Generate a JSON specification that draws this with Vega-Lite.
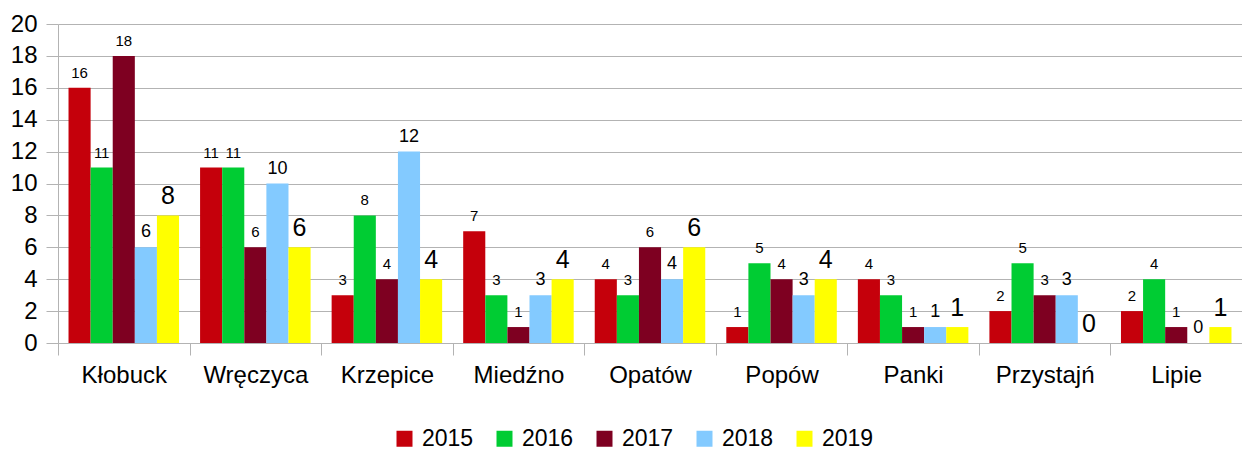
{
  "$schema": "https://vega.github.io/schema/vega-lite/v6.json",
  "width": 1184,
  "height": 319,
  "autosize": {"type": "none"},
  "padding": {"left": 58, "top": 24, "right": 0, "bottom": 107},
  "config": {
    "font": "Liberation Sans",
    "view": {"stroke": null},
    "axis": {"labelColor": "#000000", "labelFont": "Liberation Sans"}
  },
  "data": {
    "values": [
      {"gmina": "Kłobuck", "year": "2015", "value": 16},
      {"gmina": "Kłobuck", "year": "2016", "value": 11},
      {"gmina": "Kłobuck", "year": "2017", "value": 18},
      {"gmina": "Kłobuck", "year": "2018", "value": 6},
      {"gmina": "Kłobuck", "year": "2019", "value": 8},
      {"gmina": "Wręczyca", "year": "2015", "value": 11},
      {"gmina": "Wręczyca", "year": "2016", "value": 11},
      {"gmina": "Wręczyca", "year": "2017", "value": 6},
      {"gmina": "Wręczyca", "year": "2018", "value": 10},
      {"gmina": "Wręczyca", "year": "2019", "value": 6},
      {"gmina": "Krzepice", "year": "2015", "value": 3},
      {"gmina": "Krzepice", "year": "2016", "value": 8},
      {"gmina": "Krzepice", "year": "2017", "value": 4},
      {"gmina": "Krzepice", "year": "2018", "value": 12},
      {"gmina": "Krzepice", "year": "2019", "value": 4},
      {"gmina": "Miedźno", "year": "2015", "value": 7},
      {"gmina": "Miedźno", "year": "2016", "value": 3},
      {"gmina": "Miedźno", "year": "2017", "value": 1},
      {"gmina": "Miedźno", "year": "2018", "value": 3},
      {"gmina": "Miedźno", "year": "2019", "value": 4},
      {"gmina": "Opatów", "year": "2015", "value": 4},
      {"gmina": "Opatów", "year": "2016", "value": 3},
      {"gmina": "Opatów", "year": "2017", "value": 6},
      {"gmina": "Opatów", "year": "2018", "value": 4},
      {"gmina": "Opatów", "year": "2019", "value": 6},
      {"gmina": "Popów", "year": "2015", "value": 1},
      {"gmina": "Popów", "year": "2016", "value": 5},
      {"gmina": "Popów", "year": "2017", "value": 4},
      {"gmina": "Popów", "year": "2018", "value": 3},
      {"gmina": "Popów", "year": "2019", "value": 4},
      {"gmina": "Panki", "year": "2015", "value": 4},
      {"gmina": "Panki", "year": "2016", "value": 3},
      {"gmina": "Panki", "year": "2017", "value": 1},
      {"gmina": "Panki", "year": "2018", "value": 1},
      {"gmina": "Panki", "year": "2019", "value": 1},
      {"gmina": "Przystajń", "year": "2015", "value": 2},
      {"gmina": "Przystajń", "year": "2016", "value": 5},
      {"gmina": "Przystajń", "year": "2017", "value": 3},
      {"gmina": "Przystajń", "year": "2018", "value": 3},
      {"gmina": "Przystajń", "year": "2019", "value": 0},
      {"gmina": "Lipie", "year": "2015", "value": 2},
      {"gmina": "Lipie", "year": "2016", "value": 4},
      {"gmina": "Lipie", "year": "2017", "value": 1},
      {"gmina": "Lipie", "year": "2018", "value": 0},
      {"gmina": "Lipie", "year": "2019", "value": 1}
    ]
  },
  "encoding": {
    "x": {
      "field": "gmina", "type": "nominal", "sort": null,
      "scale": {"paddingInner": 0, "paddingOuter": 0},
      "axis": {
        "title": null, "labelAngle": 0, "labelFontSize": 24, "labelPadding": 8,
        "domainColor": "#b3b3b3", "tickColor": "#b3b3b3", "tickSize": 12,
        "tickBand": "extent", "grid": false
      }
    },
    "xOffset": {
      "field": "year", "type": "nominal",
      "scale": {"domain": ["2015", "2016", "2017", "2018", "2019"], "paddingInner": 0, "paddingOuter": 0.476}
    },
    "y": {
      "field": "value", "type": "quantitative",
      "scale": {"domain": [0, 20], "nice": false},
      "axis": {
        "title": null, "values": [0, 2, 4, 6, 8, 10, 12, 14, 16, 18, 20],
        "labelFontSize": 24, "labelPadding": 9,
        "grid": true, "gridColor": "#b3b3b3",
        "domainColor": "#b3b3b3", "tickColor": "#b3b3b3", "tickSize": 12
      }
    }
  },
  "layer": [
    {
      "mark": {"type": "bar"},
      "encoding": {
        "color": {
          "field": "year", "type": "nominal",
          "scale": {"domain": ["2015", "2016", "2017", "2018", "2019"], "range": ["#C5000B", "#00CC33", "#7E0021", "#83CAFF", "#FFFF00"]},
          "legend": {
            "title": null, "orient": "none", "legendX": 335, "legendY": 403, "padding": 0,
            "direction": "horizontal", "symbolType": "square", "symbolSize": 256,
            "symbolStrokeWidth": 0, "labelFontSize": 23, "labelColor": "#000000",
            "labelOffset": 6, "columnPadding": 19, "labelLimit": 300
          }
        }
      }
    },
    {
      "transform": [{"filter": "datum.year == '2015' || datum.year == '2016' || datum.year == '2017'"}],
      "mark": {"type": "text", "baseline": "alphabetic", "dy": -10, "fontSize": 15, "color": "#000000"},
      "encoding": {"text": {"field": "value", "type": "quantitative"}}
    },
    {
      "transform": [{"filter": "datum.year == '2018'"}],
      "mark": {"type": "text", "baseline": "alphabetic", "dy": -10, "fontSize": 18, "color": "#000000"},
      "encoding": {"text": {"field": "value", "type": "quantitative"}}
    },
    {
      "transform": [{"filter": "datum.year == '2019'"}],
      "mark": {"type": "text", "baseline": "alphabetic", "dy": -11, "fontSize": 25, "color": "#000000"},
      "encoding": {"text": {"field": "value", "type": "quantitative"}}
    }
  ]
}
